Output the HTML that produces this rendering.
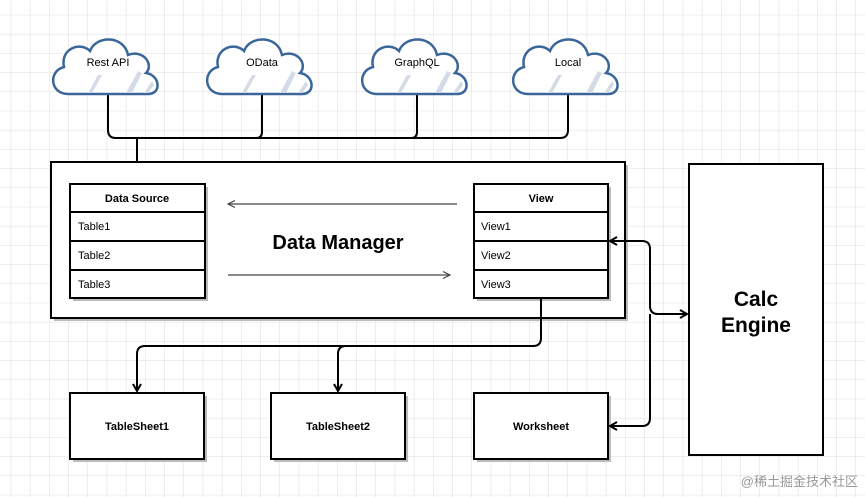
<!DOCTYPE html>
<html><head><meta charset="utf-8"><style>
html,body{margin:0;padding:0;background:#fff;}
svg{display:block;}
text{font-family:"Liberation Sans",Arial,sans-serif;}
</style></head><body>
<svg width="865" height="497" viewBox="0 0 865 497" xmlns="http://www.w3.org/2000/svg">
<defs>
<pattern id="g" width="19.2" height="19.2" patternUnits="userSpaceOnUse" x="-8" y="-4">
<path d="M19.2 0V19.2H0" fill="none" stroke="#dedede" stroke-width="1"/>
</pattern>
<marker id="a" markerWidth="10" markerHeight="10" refX="8" refY="5" orient="auto" markerUnits="userSpaceOnUse">
<path d="M1 1L8 5L1 9" fill="none" stroke="#000" stroke-width="2"/>
</marker>
<marker id="ag" markerWidth="10" markerHeight="10" refX="8" refY="5" orient="auto" markerUnits="userSpaceOnUse">
<path d="M1 1.5L8 5L1 8.5" fill="none" stroke="#444" stroke-width="1.2"/>
</marker>
<g id="cloud">
<path d="M-40 27 C-58 27 -60 4 -44 0 C-48 -18 -28 -26 -18 -16 C-12 -32 16 -32 20 -12 C36 -18 46 -2 38 6 C52 8 54 27 40 27 Z" fill="#fff" stroke="#3a6699" stroke-width="2.5"/>
<path d="M-20 26L-10 8L-6 8L-16 26Z M18 26L30 4L34 6L24 26Z M36 26L44 14L46 18L40 26Z" fill="#d4dbe6"/>
</g>
</defs>
<rect width="865" height="497" fill="url(#g)"/>

<g fill="none" stroke="#000" stroke-width="2">
<path d="M108 95V130Q108 138 116 138H560Q568 138 568 130V95"/>
<path d="M262 95V132Q262 138 256 138"/>
<path d="M417 95V132Q417 138 411 138"/>
<path d="M137 138V184"/>
</g>

<g transform="translate(108,67)"><use href="#cloud"/><text x="0" y="-1" font-size="11" text-anchor="middle">Rest API</text></g>
<g transform="translate(262,67)"><use href="#cloud"/><text x="0" y="-1" font-size="11" text-anchor="middle">OData</text></g>
<g transform="translate(417,67)"><use href="#cloud"/><text x="0" y="-1" font-size="11" text-anchor="middle">GraphQL</text></g>
<g transform="translate(568,67)"><use href="#cloud"/><text x="0" y="-1" font-size="11" text-anchor="middle">Local</text></g>

<rect x="54" y="165" width="574" height="156" fill="#bbb"/>
<rect x="51" y="162" width="574" height="156" fill="#fff" stroke="#000" stroke-width="2"/>

<rect x="73" y="187" width="135" height="114" fill="#bbb"/>
<rect x="70" y="184" width="135" height="114" fill="#fff" stroke="#000" stroke-width="2"/>
<path d="M70 212H205M70 241H205M70 270H205" stroke="#000" stroke-width="2"/>
<text x="137" y="202" font-size="11" font-weight="bold" text-anchor="middle">Data Source</text>
<text x="78" y="230" font-size="11">Table1</text>
<text x="78" y="259" font-size="11">Table2</text>
<text x="78" y="288" font-size="11">Table3</text>

<rect x="477" y="187" width="134" height="114" fill="#bbb"/>
<rect x="474" y="184" width="134" height="114" fill="#fff" stroke="#000" stroke-width="2"/>
<path d="M474 212H608M474 241H608M474 270H608" stroke="#000" stroke-width="2"/>
<text x="541" y="202" font-size="11" font-weight="bold" text-anchor="middle">View</text>
<text x="481" y="230" font-size="11">View1</text>
<text x="481" y="259" font-size="11">View2</text>
<text x="481" y="288" font-size="11">View3</text>

<path d="M457 204H228" stroke="#444" stroke-width="1.2" marker-end="url(#ag)"/>
<path d="M228 275H450" stroke="#444" stroke-width="1.2" marker-end="url(#ag)"/>
<text x="338" y="249" font-size="20" font-weight="bold" text-anchor="middle">Data Manager</text>

<rect x="689" y="164" width="134" height="291" fill="#fff" stroke="#000" stroke-width="2"/>
<text x="756" y="306" font-size="21" font-weight="bold" text-anchor="middle">Calc</text>
<text x="756" y="332" font-size="21" font-weight="bold" text-anchor="middle">Engine</text>

<rect x="73" y="396" width="134" height="66" fill="#bbb"/>
<rect x="70" y="393" width="134" height="66" fill="#fff" stroke="#000" stroke-width="2"/>
<text x="137" y="430" font-size="11" font-weight="bold" text-anchor="middle">TableSheet1</text>
<rect x="274" y="396" width="134" height="66" fill="#bbb"/>
<rect x="271" y="393" width="134" height="66" fill="#fff" stroke="#000" stroke-width="2"/>
<text x="338" y="430" font-size="11" font-weight="bold" text-anchor="middle">TableSheet2</text>
<rect x="477" y="396" width="134" height="66" fill="#bbb"/>
<rect x="474" y="393" width="134" height="66" fill="#fff" stroke="#000" stroke-width="2"/>
<text x="541" y="430" font-size="11" font-weight="bold" text-anchor="middle">Worksheet</text>

<g fill="none" stroke="#000" stroke-width="2">
<path d="M541 298V338Q541 346 533 346H145Q137 346 137 354V391" marker-end="url(#a)"/>
<path d="M346 346Q338 346 338 354V391" marker-end="url(#a)"/>
<path d="M650 306V249Q650 241 642 241H610" marker-end="url(#a)"/>
<path d="M650 306Q650 314 658 314H687" marker-end="url(#a)"/>
<path d="M650 314V418Q650 426 642 426H610" marker-end="url(#a)"/>
</g>

<text x="858" y="486" font-size="13" fill="#999" text-anchor="end" font-family="'Liberation Sans','Noto Sans CJK SC',sans-serif">@稀土掘金技术社区</text>
</svg>
</body></html>
